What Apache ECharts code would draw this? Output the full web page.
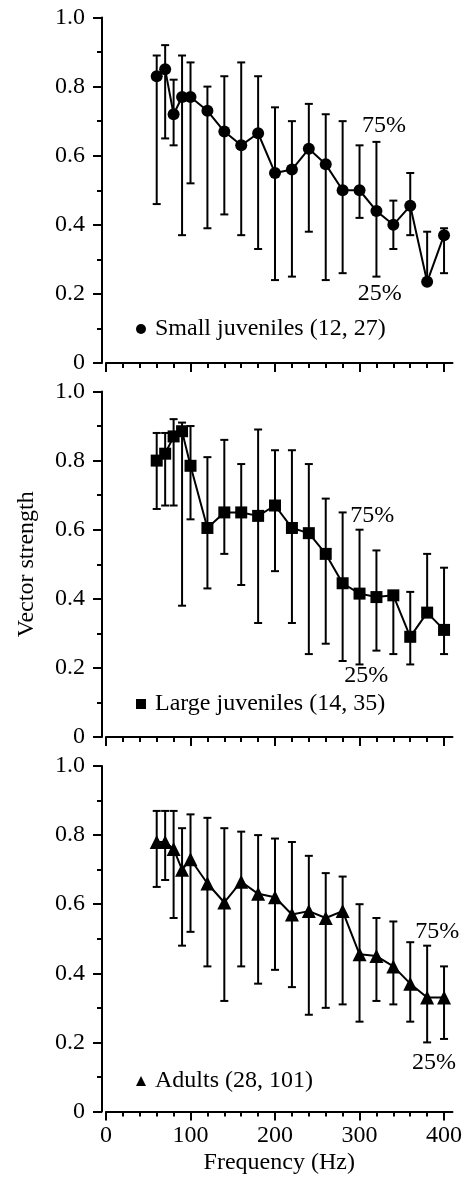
<!DOCTYPE html>
<html>
<head>
<meta charset="utf-8">
<script src="https://cdn.jsdelivr.net/npm/echarts@6/dist/echarts.min.js"></script>
<style>
  html, body { margin: 0; padding: 0; background: #fff; }
  #chart { width: 466px; height: 1177px; }
</style>
</head>
<body>
<div id="chart"></div>
<script>
// Stimulus frequencies (Hz)
const freqs = [60, 70, 80, 90, 100, 120, 140, 160, 180, 200, 220, 240, 260, 280, 300, 320, 340, 360, 380, 400];

// Small juveniles: median vector strength with 25% / 75% quartiles
const smallMedian = [0.83, 0.85, 0.72, 0.77, 0.77, 0.73, 0.67, 0.63, 0.665, 0.55, 0.56, 0.62, 0.575, 0.50, 0.50, 0.44, 0.40, 0.455, 0.235, 0.37];
const smallLow    = [0.46, 0.65, 0.63, 0.37, 0.52, 0.39, 0.43, 0.37, 0.33, 0.24, 0.25, 0.38, 0.24, 0.26, 0.42, 0.25, 0.33, 0.37, 0.23, 0.26];
const smallHigh   = [0.89, 0.92, 0.82, 0.89, 0.87, 0.80, 0.83, 0.87, 0.83, 0.74, 0.70, 0.75, 0.72, 0.70, 0.63, 0.64, 0.47, 0.55, 0.38, 0.39];

// Large juveniles
const largeMedian = [0.80, 0.82, 0.87, 0.885, 0.785, 0.605, 0.65, 0.65, 0.64, 0.67, 0.605, 0.59, 0.53, 0.445, 0.415, 0.405, 0.41, 0.29, 0.36, 0.31];
const largeLow    = [0.66, 0.67, 0.67, 0.38, 0.63, 0.43, 0.53, 0.44, 0.33, 0.48, 0.33, 0.24, 0.27, 0.22, 0.21, 0.25, 0.24, 0.21, 0.35, 0.24];
const largeHigh   = [0.88, 0.88, 0.92, 0.91, 0.90, 0.81, 0.86, 0.79, 0.89, 0.83, 0.83, 0.79, 0.69, 0.65, 0.60, 0.54, 0.42, 0.42, 0.53, 0.49];

// Adults
const adultMedian = [0.78, 0.78, 0.76, 0.70, 0.73, 0.66, 0.605, 0.665, 0.63, 0.62, 0.57, 0.58, 0.56, 0.58, 0.455, 0.45, 0.42, 0.37, 0.33, 0.33];
const adultLow    = [0.65, 0.67, 0.56, 0.48, 0.52, 0.42, 0.32, 0.42, 0.37, 0.41, 0.36, 0.28, 0.30, 0.31, 0.26, 0.32, 0.31, 0.26, 0.20, 0.21];
const adultHigh   = [0.87, 0.87, 0.87, 0.82, 0.86, 0.85, 0.82, 0.81, 0.80, 0.79, 0.78, 0.74, 0.69, 0.68, 0.60, 0.56, 0.55, 0.49, 0.48, 0.42];

// Group names as shown in each panel's key
const groupNames = ['Small juveniles (12, 27)', 'Large juveniles (14, 35)', 'Adults (28, 101)'];
const groupSymbols = ['circle', 'rect', 'triangle'];

// Quartile annotations per panel: [frequency, vector strength, text]
const quartileNotes = [
  [[329, 0.688, '75%'], [324, 0.201, '25%']],
  [[315, 0.640, '75%'], [308, 0.176, '25%']],
  [[392, 0.519, '75%'], [388, 0.140, '25%']]
];

// Axis ticks
const xMinorTicks = [0, 20, 40, 60, 80, 100, 120, 140, 160, 180, 200, 220, 240, 260, 280, 300, 320, 340, 360, 380, 400];
const xMajorTicks = [0, 100, 200, 300, 400];

const FONT = 'Liberation Serif';
const FS = 24;
const INK = '#000';

const medians = [smallMedian, largeMedian, adultMedian];
const lows = [smallLow, largeLow, adultLow];
const highs = [smallHigh, largeHigh, adultHigh];

const gridTops = [17.5, 391.5, 766];
const gridHeight = 345.5;

const grids = gridTops.map(t => ({ left: 106, width: 346.5, top: t, height: gridHeight }));

const xAxes = [];
const yAxes = [];
gridTops.forEach((t, g) => {
  const isBottom = g === gridTops.length - 1;
  // axis line with the 20 Hz ticks
  xAxes.push({
    type: 'value', gridIndex: g, position: 'bottom', min: 0, max: 410,
    axisLine: { show: true, onZero: false, lineStyle: { color: INK, width: 2 } },
    axisTick: { show: true, inside: false, length: 5, customValues: xMinorTicks, lineStyle: { color: INK, width: 2 } },
    axisLabel: { show: false },
    splitLine: { show: false }
  });
  // the longer 100 Hz ticks, labelled on the lowest panel
  xAxes.push({
    type: 'value', gridIndex: g, position: 'bottom', min: 0, max: 410,
    axisLine: { show: false, onZero: false },
    axisTick: { show: true, inside: false, length: 9, customValues: xMajorTicks, lineStyle: { color: INK, width: 2 } },
    axisLabel: {
      show: isBottom, customValues: xMajorTicks, margin: 12,
      color: INK, fontFamily: FONT, fontSize: FS
    },
    splitLine: { show: false },
    name: isBottom ? 'Frequency (Hz)' : '',
    nameLocation: 'middle', nameGap: 39,
    nameTextStyle: { color: INK, fontFamily: FONT, fontSize: FS }
  });
  yAxes.push({
    type: 'value', gridIndex: g, min: 0, max: 1, interval: 0.2, offset: 4,
    axisLine: { show: true, onZero: false, lineStyle: { color: INK, width: 2 } },
    axisTick: { show: true, inside: false, length: 9, lineStyle: { color: INK, width: 2 } },
    minorTick: { show: true, splitNumber: 2, length: 5, lineStyle: { color: INK, width: 2 } },
    axisLabel: {
      margin: 17, color: INK, fontFamily: FONT, fontSize: FS,
      formatter: v => (v === 0 ? '0' : v.toFixed(1))
    },
    splitLine: { show: false },
    minorSplitLine: { show: false },
    name: g === 1 ? 'Vector strength' : '',
    nameLocation: 'middle', nameGap: 63,
    nameTextStyle: { color: INK, fontFamily: FONT, fontSize: FS }
  });
});

const series = [];
gridTops.forEach((t, g) => {
  // interquartile bars
  series.push({
    type: 'custom',
    xAxisIndex: g * 2, yAxisIndex: g,
    z: 1, silent: true,
    data: freqs.map((f, i) => [f, lows[g][i], highs[g][i]]),
    renderItem(params, api) {
      const lo = api.coord([api.value(0), api.value(1)]);
      const hi = api.coord([api.value(0), api.value(2)]);
      const x = lo[0];
      const hw = 4;
      const st = { stroke: INK, lineWidth: 2 };
      return {
        type: 'group',
        children: [
          { type: 'line', shape: { x1: x, y1: lo[1], x2: x, y2: hi[1] }, style: st },
          { type: 'line', shape: { x1: x - hw, y1: lo[1], x2: x + hw, y2: lo[1] }, style: st },
          { type: 'line', shape: { x1: x - hw, y1: hi[1], x2: x + hw, y2: hi[1] }, style: st }
        ]
      };
    }
  });
  // medians
  series.push({
    type: 'line',
    name: groupNames[g],
    xAxisIndex: g * 2, yAxisIndex: g,
    z: 3, silent: true,
    data: freqs.map((f, i) => [f, medians[g][i]]),
    symbol: groupSymbols[g],
    symbolSize: g === 2 ? 14 : 12,
    showAllSymbol: true,
    lineStyle: { color: INK, width: 2 },
    itemStyle: { color: INK },
    animation: false
  });
  // quartile notes
  series.push({
    type: 'custom',
    xAxisIndex: g * 2, yAxisIndex: g,
    z: 4, silent: true,
    data: quartileNotes[g],
    renderItem(params, api) {
      const p = api.coord([api.value(0), api.value(1)]);
      return {
        type: 'text',
        x: p[0], y: p[1],
        style: {
          text: quartileNotes[g][params.dataIndex][2],
          fill: INK,
          font: FS + 'px "' + FONT + '"',
          align: 'center',
          verticalAlign: 'middle'
        }
      };
    }
  });
});

const legendTops = [317, 692, 1069];
const legends = gridTops.map((t, g) => ({
  data: [{ name: groupNames[g], icon: groupSymbols[g] }],
  left: 136, top: legendTops[g],
  padding: 0,
  itemWidth: 10, itemHeight: 10,
  selectedMode: false,
  textStyle: { color: INK, fontFamily: FONT, fontSize: FS, padding: [0, 0, 0, 4] }
}));

const chart = echarts.init(document.getElementById('chart'), null, { renderer: 'canvas' });
chart.setOption({
  animation: false,
  backgroundColor: '#fff',
  grid: grids,
  xAxis: xAxes,
  yAxis: yAxes,
  legend: legends,
  series: series
});
</script>
</body>
</html>
